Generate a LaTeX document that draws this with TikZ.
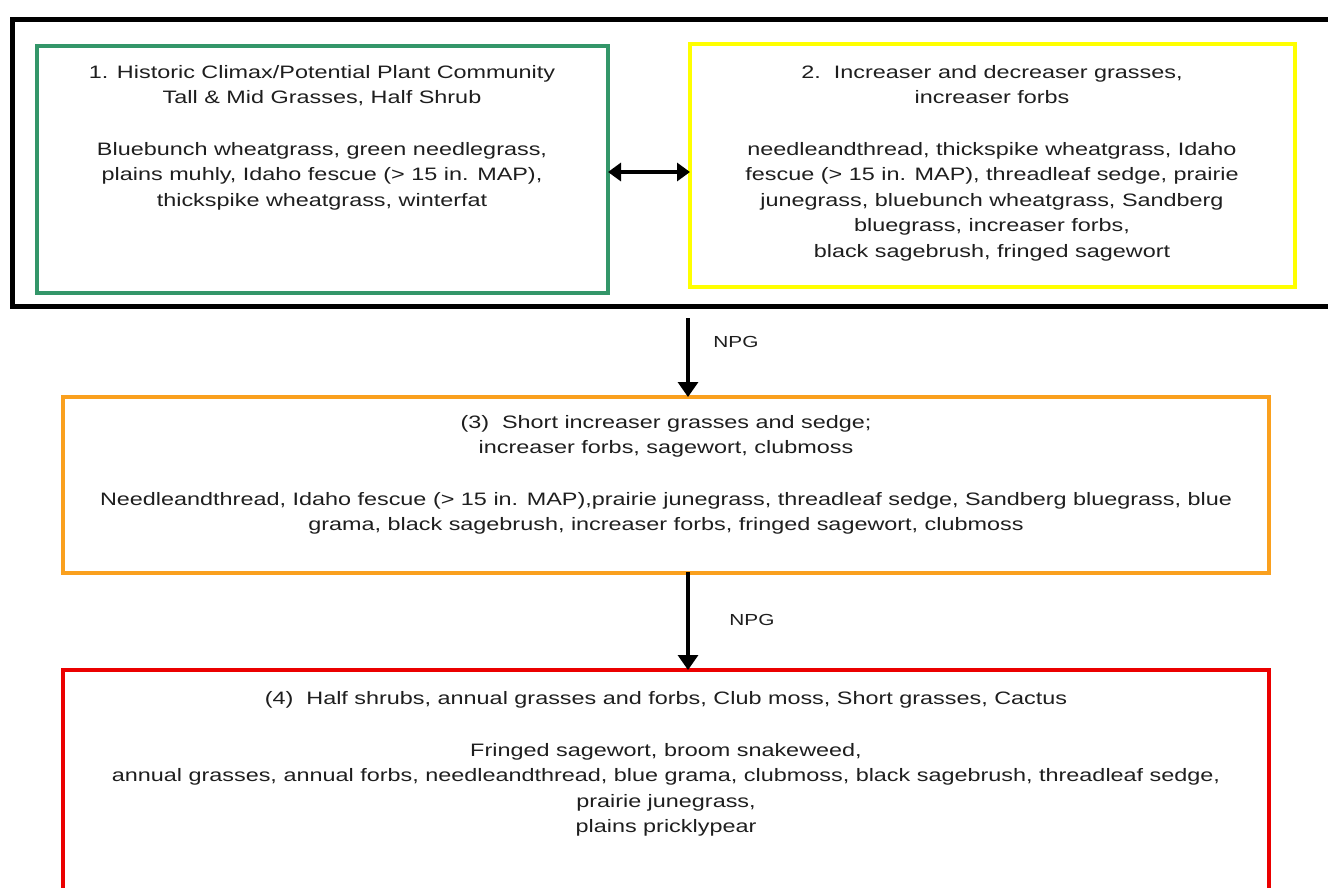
\documentclass[tikz,border=0pt]{standalone}
\usepackage{fontspec}
\setmainfont{Liberation Sans}[FakeStretch=1.3]
\usetikzlibrary{arrows.meta}
\definecolor{boxgreen}{RGB}{51,150,105}
\definecolor{boxyellow}{RGB}{255,255,0}
\definecolor{boxorange}{RGB}{250,160,30}
\definecolor{boxred}{RGB}{235,0,0}
\definecolor{txt}{RGB}{30,30,30}
\tikzset{
  panel/.style={draw=#1, line width=4pt, rectangle, inner sep=0pt, outer sep=0pt},
  label/.style={text=txt, align=center, anchor=north, inner sep=0pt, font=\fontsize{18}{25.5}\selectfont},
  npg/.style={text=txt, inner sep=0pt, font=\fontsize{16}{18}\selectfont},
  flow/.style={line width=3.2pt, -{Triangle[width=20pt,length=15pt]}},
  both/.style={line width=4pt, {Triangle[width=18pt,length=13pt]}-{Triangle[width=18pt,length=13pt]}}
}
\begin{document}
\begin{tikzpicture}[x=1pt,y=-1pt]
\useasboundingbox (0,0) rectangle (1328,887);
\clip (0,0) rectangle (1328,887);
% outer frame
\node[panel=black, line width=5pt, minimum width=1328pt, minimum height=287pt] (outer) at (676,162.5) {};
% boxes
\node[panel=boxgreen, minimum width=571pt, minimum height=247pt] (g) at (322.5,169.5) {};
\node[panel=boxyellow, minimum width=605pt, minimum height=243pt] (yb) at (992.5,165.5) {};
\node[panel=boxorange, minimum width=1206pt, minimum height=176pt] (o) at (666,485) {};
\node[panel=boxred, minimum width=1206pt, minimum height=240pt] (r) at (666,790) {};
% texts
\node[label] (gt) at (322,65) {1. Historic Climax/Potential Plant Community\\Tall \& Mid Grasses, Half Shrub};
\node[label] (gb) at (322,142) {Bluebunch wheatgrass, green needlegrass,\\plains muhly, Idaho fescue (> 15 in. MAP),\\thickspike wheatgrass, winterfat};
\node[label] (yt) at (992,65) {2.\ \ Increaser and decreaser grasses,\\increaser forbs};
\node[label] (ybd) at (992,142) {needleandthread, thickspike wheatgrass, Idaho\\fescue (> 15 in. MAP), threadleaf sedge, prairie\\junegrass, bluebunch wheatgrass, Sandberg\\bluegrass, increaser forbs,\\black sagebrush, fringed sagewort};
\node[label] (ot) at (666,415) {(3)\ \ Short increaser grasses and sedge;\\increaser forbs, sagewort, clubmoss};
\node[label] (ob) at (666,492) {Needleandthread, Idaho fescue (> 15 in. MAP),prairie junegrass, threadleaf sedge, Sandberg bluegrass, blue\\grama, black sagebrush, increaser forbs, fringed sagewort, clubmoss};
\node[label] (rt) at (666,691) {(4)\ \ Half shrubs, annual grasses and forbs, Club moss, Short grasses, Cactus};
\node[label] (rb) at (666,743) {Fringed sagewort, broom snakeweed,\\annual grasses, annual forbs, needleandthread, blue grama, clubmoss, black sagebrush, threadleaf sedge,\\prairie junegrass,\\plains pricklypear};
% connectors
\coordinate (da) at (650,172);
\draw[both] (g.east |- da) -- (yb.west |- da);
\coordinate (a1) at (688,318);
\draw[flow] (a1) -- (a1 |- o.north);
\coordinate (a2) at (688,572);
\draw[flow] (a2) -- (a2 |- r.north);
\node[npg] (n1) at (736,342) {NPG};
\node[npg] (n2) at (752,620) {NPG};
\end{tikzpicture}
\end{document}
